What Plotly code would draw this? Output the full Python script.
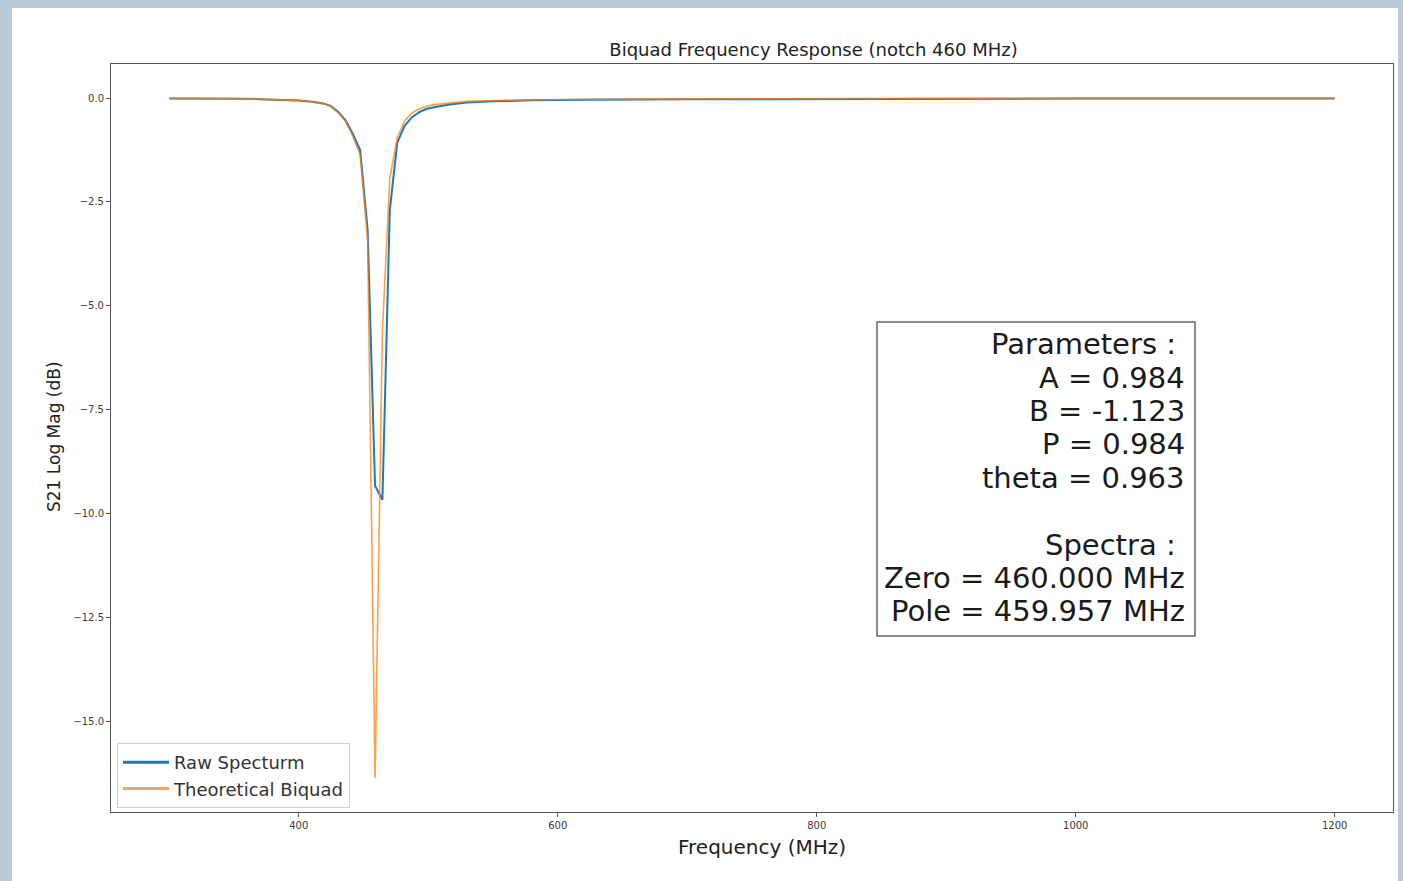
import plotly.graph_objects as go

# ---------------- data ----------------
freq_mhz = [300, 330, 360, 380, 400, 410, 418.9, 424.6, 430.3, 436.0, 441.7,
            447.4, 453.2, 458.9, 464.6, 470.3, 476.0, 481.7, 487.4, 493.1,
            498.8, 504.5, 515, 530, 550, 580, 620, 700, 800, 900, 1000, 1100, 1200]

raw_db = [-0.01, -0.01, -0.02, -0.04, -0.06, -0.09, -0.13, -0.19, -0.33, -0.53, -0.86,
          -1.25, -3.18, -9.32, -9.66, -2.70, -1.08, -0.67, -0.46, -0.34,
          -0.26, -0.22, -0.16, -0.11, -0.08, -0.055, -0.04, -0.03, -0.02, -0.02, -0.015, -0.01, -0.01]

theory_db = [-0.01, -0.01, -0.02, -0.04, -0.06, -0.09, -0.14, -0.20, -0.35, -0.56, -0.92,
             -1.37, -3.42, -16.35, -5.59, -1.93, -0.96, -0.55, -0.36, -0.26,
             -0.20, -0.16, -0.12, -0.08, -0.06, -0.04, -0.03, -0.02, -0.01, -0.01, -0.01, -0.01, -0.01]

x_ticks = [400, 600, 800, 1000, 1200]
y_ticks = [0.0, -2.5, -5.0, -7.5, -10.0, -12.5, -15.0]

param_lines = ["Parameters :\u00a0", "A = 0.984", "B = -1.123", "P = 0.984", "theta = 0.963",
               "Spectra :\u00a0", "Zero = 460.000 MHz", "Pole = 459.957 MHz"]
param_line_y_px = [344, 378, 411, 444, 478, 545, 578, 611]

series_names = ["Raw Specturm", "Theoretical Biquad"]

# ---------------- geometry helpers ----------------
W, H = 1403, 881
L, R, T, B = 111, 1393, 64, 812
PW, PH = R - L, B - T


def px(xp):
    return (xp - L) / PW


def py(yp):
    return (B - yp) / PH


BLUE = "#1f77b4"
ORANGE = "rgba(255,127,14,0.75)"
FONT = "DejaVu Sans"

fig = go.Figure()
fig.add_trace(go.Scatter(x=freq_mhz, y=raw_db, mode="lines", name=series_names[0],
                         line=dict(color=BLUE, width=2), showlegend=False))
fig.add_trace(go.Scatter(x=freq_mhz, y=theory_db, mode="lines", name=series_names[1],
                         line=dict(color=ORANGE, width=1.6), showlegend=False))
# legend entries (thicker lines like the reference legend)
fig.add_trace(go.Scatter(x=[None], y=[None], mode="lines", name=series_names[0],
                         line=dict(color=BLUE, width=3)))
fig.add_trace(go.Scatter(x=[None], y=[None], mode="lines", name=series_names[1],
                         line=dict(color="rgba(255,140,50,0.8)", width=3)))

ymin = min(raw_db + theory_db)
ymax = 0.0
yr = ymax - ymin
xr = max(freq_mhz) - min(freq_mhz)

axis_common = dict(showline=True, linecolor="#555555", linewidth=1, mirror=True,
                   showgrid=False, zeroline=False, ticks="outside", ticklen=4,
                   tickcolor="#555555", tickfont=dict(family=FONT, size=10, color="#3a3a3a"))

fig.update_xaxes(range=[min(freq_mhz) - 0.05 * xr, max(freq_mhz) + 0.05 * xr],
                 tickvals=x_ticks, ticktext=[str(v) for v in x_ticks], **axis_common)
fig.update_yaxes(range=[ymin - 0.05 * yr, ymax + 0.05 * yr],
                 tickvals=y_ticks, ticktext=[f"{v:.1f}".replace("-", "\u2212") for v in y_ticks],
                 **axis_common)

annotations = []
for txt, yp in zip(param_lines, param_line_y_px):
    annotations.append(dict(text=txt, xref="paper", yref="paper", x=px(1187), y=py(yp),
                            xanchor="right", yanchor="middle", showarrow=False,
                            font=dict(family=FONT, size=29, color="#1a1a1a")))
annotations.append(dict(text="S21 Log Mag (dB)", xref="paper", yref="paper", x=px(54), y=py(437),
                        xanchor="center", yanchor="middle", textangle=-90, showarrow=False,
                        font=dict(family=FONT, size=17, color="#222222")))
annotations.append(dict(text="Frequency (MHz)", xref="paper", yref="paper", x=px(762), y=py(847),
                        xanchor="center", yanchor="middle", showarrow=False,
                        font=dict(family=FONT, size=20, color="#222222")))

bg = "#bccbdb"
shapes = [
    # parameters box
    dict(type="rect", xref="paper", yref="paper", x0=px(877), x1=px(1195), y0=py(636), y1=py(322),
         line=dict(color="#666666", width=1.5), fillcolor="rgba(255,255,255,1)", layer="below"),
    # background edges from the screenshot
    dict(type="rect", xref="paper", yref="paper", x0=px(0), x1=px(W), y0=py(8), y1=py(0),
         line=dict(width=0), fillcolor=bg, layer="below"),
    dict(type="rect", xref="paper", yref="paper", x0=px(0), x1=px(12), y0=py(H), y1=py(0),
         line=dict(width=0), fillcolor=bg, layer="below"),
    dict(type="rect", xref="paper", yref="paper", x0=px(1398), x1=px(W), y0=py(H), y1=py(0),
         line=dict(width=0), fillcolor=bg, layer="below"),
]

fig.update_layout(
    width=W, height=H,
    margin=dict(l=L, r=W - R, t=T, b=H - B),
    paper_bgcolor="white", plot_bgcolor="white",
    title=dict(text="Biquad Frequency Response (notch 460 MHz)", xref="paper", x=px(813.5),
               xanchor="center", yref="container", y=1 - 50 / H, yanchor="middle",
               font=dict(family=FONT, size=18, color="#222222")),
    legend=dict(x=px(117), y=py(808), xanchor="left", yanchor="bottom",
                bgcolor="white", bordercolor="#d0d0d0", borderwidth=1, itemwidth=46,
                font=dict(family=FONT, size=18, color="#333333"), tracegroupgap=0),
    annotations=annotations,
    shapes=shapes,
    font=dict(family=FONT),
)

fig.write_html("out.html", config={"displayModeBar": False},
               post_script="document.body.style.margin='0';document.body.style.overflow='hidden';")
